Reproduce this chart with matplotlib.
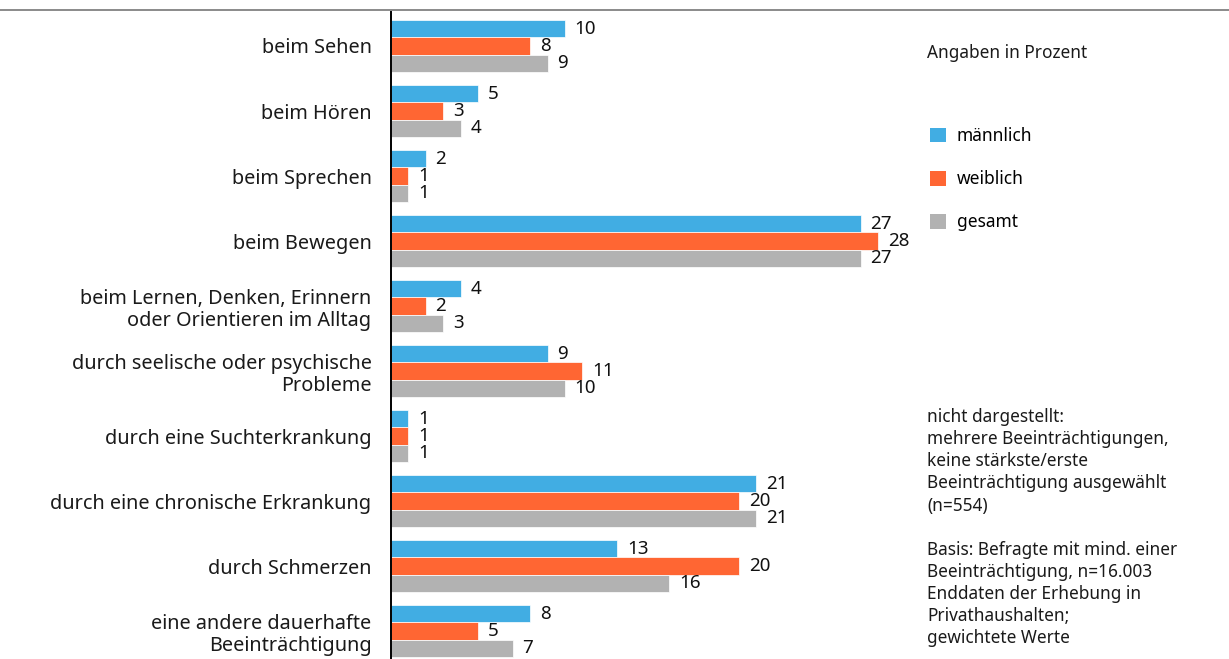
import matplotlib.pyplot as plt
import numpy as np
from matplotlib.lines import Line2D
from matplotlib.patches import Patch

plt.rcParams['font.family'] = ['Noto Sans', 'DejaVu Sans']

# Beeinträchtigung nach Geschlecht, Angaben in Prozent
categories = ["beim Sehen", "beim Hören", "beim Sprechen", "beim Bewegen",
              "beim Lernen, Denken, Erinnern\noder Orientieren im Alltag",
              "durch seelische oder psychische\nProbleme",
              "durch eine Suchterkrankung",
              "durch eine chronische Erkrankung",
              "durch Schmerzen",
              "eine andere dauerhafte\nBeeinträchtigung"]
maennlich = [10, 5, 2, 27, 4, 9, 1, 21, 13, 8]
weiblich = [8, 3, 1, 28, 2, 11, 1, 20, 20, 5]
gesamt = [9, 4, 1, 27, 3, 10, 1, 21, 16, 7]
series_names = ["männlich", "weiblich", "gesamt"]
colors = ["#41ADE3", "#FF6633", "#B2B2B2"]

W, H = 1229, 659
fig = plt.figure(figsize=(W / 100, H / 100), dpi=100)
ax = fig.add_axes([391 / W, 0, (900 - 391) / W, (659 - 12) / H])

y = np.arange(len(categories))
h = 0.265
for k, (vals, col) in enumerate(zip([maennlich, weiblich, gesamt], colors)):
    pos = y + (k - 1) * h
    ax.barh(pos, vals, height=h, color=col, edgecolor='white', linewidth=0.5)
    for p, v in zip(pos, vals):
        ax.annotate(str(v), (v, p), xytext=(7, 0), textcoords='offset points',
                    ha='left', va='center', fontsize=13.5, color='#111111')

ax.set_xlim(0, 29.25)
ax.set_ylim(9.43, -0.523)
ax.set_yticks(y)
ax.set_yticklabels(categories, fontsize=14.3, color='#1a1a1a', ha='right',
                   linespacing=1.15)
ax.tick_params(axis='y', length=0, pad=14)
ax.set_xticks([])
for s in ['top', 'right', 'bottom']:
    ax.spines[s].set_visible(False)
ax.spines['left'].set_linewidth(1.4)
ax.spines['left'].set_color('black')

# top rule
fig.add_artist(Line2D([0, 1], [1 - 10 / H, 1 - 10 / H], color='#777777', linewidth=1.2,
                      transform=fig.transFigure))

fig.text(927 / W, 1 - 53 / H, "Angaben in Prozent", fontsize=12.4, va='center', color='#1a1a1a')

handles = [Patch(facecolor=c, edgecolor='none') for c in colors]
fig.legend(handles, series_names, loc='upper left', bbox_to_anchor=(930 / W, 1 - 127 / H),
           frameon=False, fontsize=12.5, handlelength=0.92, handleheight=0.92,
           labelspacing=1.45, handletextpad=0.63, borderpad=0, borderaxespad=0)

note = ("nicht dargestellt:\nmehrere Beeinträchtigungen,\nkeine stärkste/erste\n"
        "Beeinträchtigung ausgewählt\n(n=554)\n\n"
        "Basis: Befragte mit mind. einer\nBeeinträchtigung, n=16.003\n"
        "Enddaten der Erhebung in\nPrivathaushalten;\ngewichtete Werte")
fig.text(927 / W, 1 - 408 / H, note, fontsize=12.4, va='top', ha='left',
         linespacing=1.295, color='#1a1a1a')

fig.savefig("out.png", dpi=100)
